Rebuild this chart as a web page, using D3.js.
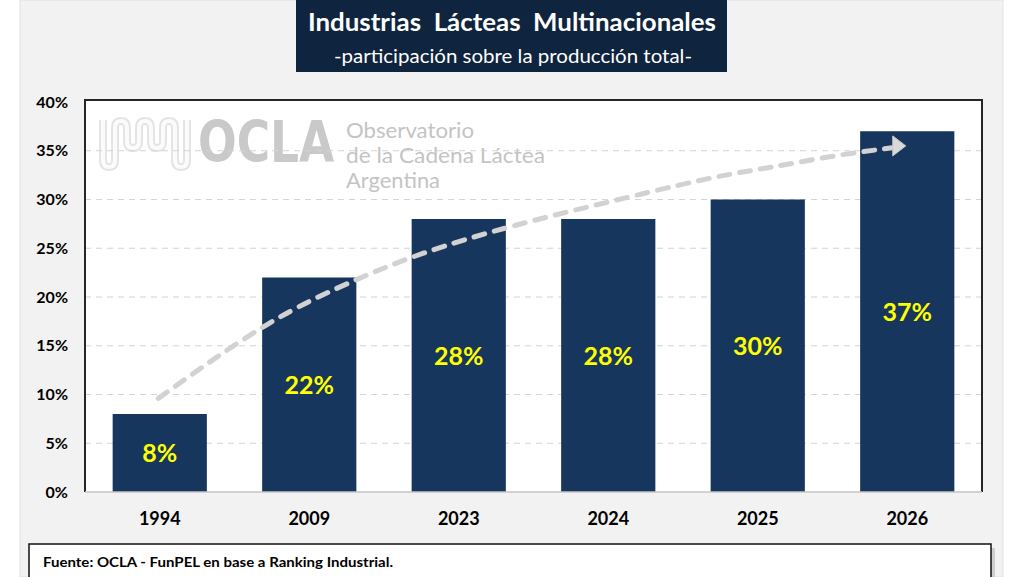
<!DOCTYPE html>
<html>
<head>
<meta charset="utf-8">
<script src="https://cdn.jsdelivr.net/npm/d3@7"></script>
<style>
body{margin:0;background:#fff;}
svg{display:block;font-family:Lato,"Open Sans",sans-serif;}
</style>
</head>
<body>
<svg width="1024" height="577"></svg>
<script>
(()=>{

//data
let years = ["1994","2009","2023","2024","2025","2026"];
let shares = [0.08,0.22,0.28,0.28,0.30,0.37];
let yTicks = [0,0.05,0.10,0.15,0.20,0.25,0.30,0.35,0.40];
//trend arrow, in category index / share units
let trendIdx = [-0.01,0.74,1.31,1.74,2.34,3.15,3.75,4.10,4.50,4.90];
let trendVal = [0.096,0.178,0.218,0.245,0.273,0.303,0.325,0.333,0.345,0.353];
let titleText = "Industrias  Lácteas  Multinacionales";
let subtitleText = "-participación sobre la producción total-";
let sourceText = "Fuente: OCLA - FunPEL en base a Ranking Industrial.";
let logoLines = ["Observatorio","de la Cadena Láctea","Argentina"];
let logoWidths = [128,199,94];

let svg = d3.select("svg");

//page background
svg.append("rect").attr("width",1024).attr("height",577).attr("fill","#fff");
svg.append("rect").attr("x",20).attr("y",0).attr("width",983).attr("height",577)
	.attr("fill","#f2f2f2").attr("stroke","#e2e2e2");

//title box
svg.append("rect").attr("x",296).attr("y",-2).attr("width",431).attr("height",74)
	.attr("fill","#0f243e");
svg.append("text").attr("x",512).attr("y",31).attr("text-anchor","middle")
	.attr("fill","#fff").attr("font-weight","bold").attr("font-size",25.5)
	.attr("textLength",408).attr("lengthAdjust","spacingAndGlyphs")
	.style("white-space","pre").text(titleText);
svg.append("text").attr("x",513).attr("y",63).attr("text-anchor","middle")
	.attr("fill","#fff").attr("font-size",18.5)
	.attr("textLength",358).attr("lengthAdjust","spacingAndGlyphs")
	.text(subtitleText);

//scales
let left = 85, right = 982, top = 100, bottom = 492;
let x = d3.scaleBand().domain(years).range([left,right]).paddingInner(0.37).paddingOuter(0.185);
let y = d3.scaleLinear().domain([0,0.40]).range([bottom,102]);
let xi = d3.scaleLinear().domain([0,years.length-1])
	.range([x(years[0])+x.bandwidth()/2, x(years[years.length-1])+x.bandwidth()/2]);

//plot area
svg.append("rect").attr("x",left).attr("y",top).attr("width",right-left).attr("height",bottom-top)
	.attr("fill","#fff");

//watermark logo
let logo = svg.append("g");
let wave = "M103,120 L103,160 Q103,167 109,167 Q115,167 115,160 L115,128 Q115,121 121,121 Q127,121 127,128 L127,142 Q127,148 133,148 Q139,148 139,142 L139,128 Q139,121 145,121 Q151,121 151,128 L151,142 Q151,148 157,148 Q163,148 163,142 L163,128 Q163,121 169,121 Q175,121 175,128 L175,160 Q175,167 181,167 Q187,167 187,160 L187,120";
logo.append("path").attr("d",wave).attr("fill","none").attr("stroke","#e4e4e4").attr("stroke-width",8);
logo.append("path").attr("d",wave).attr("fill","none").attr("stroke","#fbfbfb").attr("stroke-width",4);
logo.append("text").attr("transform","translate(198,162) scale(1,1.25)")
	.attr("font-family","'DejaVu Sans',sans-serif")
	.attr("font-weight","bold").attr("font-size",45.5).attr("fill","#c9c9c9").text("OCLA");
logoLines.forEach((t,i)=>{
	logo.append("text").attr("x",346).attr("y",138+i*25).attr("font-size",20.5)
		.attr("textLength",logoWidths[i]).attr("lengthAdjust","spacingAndGlyphs")
		.attr("fill","#c4c4c4").text(t);
});

//gridlines
svg.selectAll(".grid")
	.data(yTicks.filter(d => d>0 && d<0.40))
	.enter().append("line")
	.attr("class","grid")
	.attr("x1",left).attr("x2",right)
	.attr("y1",d => y(d)).attr("y2",d => y(d))
	.attr("stroke","#d4d4d4").attr("stroke-width",1.2).attr("stroke-dasharray","6,5");

//bars
svg.selectAll(".bar")
	.data(shares)
	.enter().append("rect")
	.attr("class","bar")
	.attr("x",(d,i) => x(years[i]))
	.attr("y",d => y(d))
	.attr("width",x.bandwidth())
	.attr("height",d => bottom-y(d))
	.attr("fill","#17365d");

//trend dashed arrow
let pts = trendIdx.map((d,i) => [xi(d), y(trendVal[i])]);
let trendLine = d3.line().curve(d3.curveBasis);
svg.append("path").attr("d",trendLine(pts)).attr("fill","none")
	.attr("stroke","#d2d2d2").attr("stroke-width",5).attr("stroke-linecap","round")
	.attr("stroke-dasharray","11,10");
let tip = [xi(4.99), y(0.355)];
svg.append("path")
	.attr("d",`M${tip[0]-13},${tip[1]-10} L${tip[0]},${tip[1]} L${tip[0]-13},${tip[1]+10} Z`)
	.attr("fill","#d9d9d9").attr("stroke","#c8c8c8").attr("stroke-width",1);

//bar labels
svg.selectAll(".lbl")
	.data(shares)
	.enter().append("text")
	.attr("class","lbl")
	.attr("x",(d,i) => x(years[i])+x.bandwidth()/2)
	.attr("y",d => (y(d)+bottom)/2)
	.attr("dy","0.36em")
	.attr("text-anchor","middle")
	.attr("fill","#ffff00").attr("font-weight","bold").attr("font-size",25)
	.text(d => d3.format(".0%")(d));

//frame
svg.append("path")
	.attr("d",`M${left},${bottom} L${left},${top} L${right},${top} L${right},${bottom}`)
	.attr("fill","none").attr("stroke","#262626").attr("stroke-width",2);
svg.append("line").attr("x1",left).attr("x2",right).attr("y1",bottom).attr("y2",bottom)
	.attr("stroke","#c6c6c6").attr("stroke-width",1.5);

//axes
let yAxis = svg.append("g").attr("transform",`translate(${left},0)`)
	.call(d3.axisLeft(y).tickValues(yTicks).tickFormat(d3.format(".0%")).tickSize(0).tickPadding(17));
yAxis.select(".domain").remove();
yAxis.selectAll("text").attr("font-family","Lato,sans-serif").attr("font-weight","bold")
	.attr("font-size",16).attr("fill","#000");

let xAxis = svg.append("g").attr("transform",`translate(0,${bottom})`)
	.call(d3.axisBottom(x).tickSize(0).tickPadding(20));
xAxis.select(".domain").remove();
xAxis.selectAll("text").attr("font-family","Lato,sans-serif").attr("font-weight","bold")
	.attr("font-size",18).attr("fill","#000");

//source note
svg.append("rect").attr("x",33).attr("y",548).attr("width",962).attr("height",50).attr("fill","#b5b5b5").attr("opacity",0.6);
svg.append("rect").attr("x",29).attr("y",544).attr("width",962).attr("height",50)
	.attr("fill","#fff").attr("stroke","#111").attr("stroke-width",1.5);
svg.append("text").attr("x",43).attr("y",567).attr("font-weight","bold").attr("font-size",14)
	.attr("textLength",350).attr("lengthAdjust","spacingAndGlyphs")
	.attr("fill","#000").text(sourceText);

})();
</script>
</body>
</html>
